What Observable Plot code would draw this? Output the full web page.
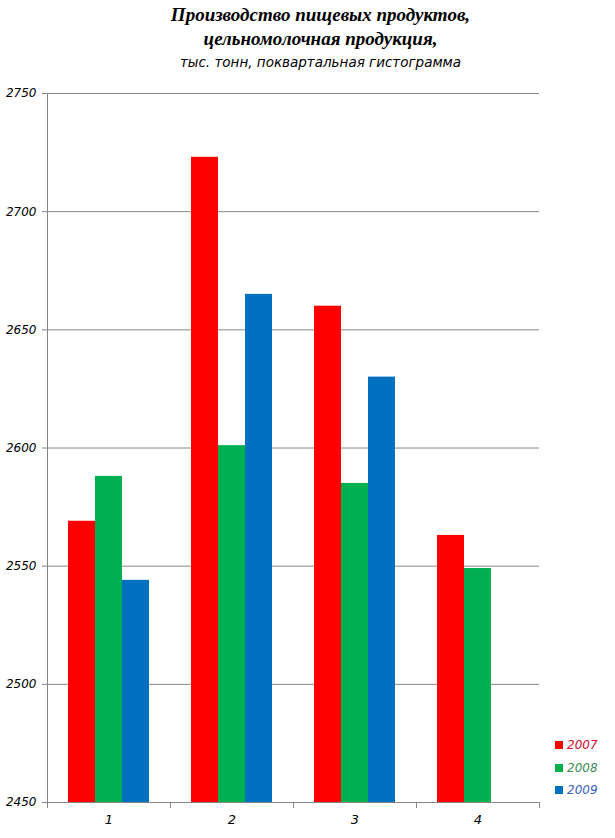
<!DOCTYPE html>
<html><head><meta charset="utf-8">
<script src="https://cdn.jsdelivr.net/npm/d3@7"></script>
<script src="https://cdn.jsdelivr.net/npm/@observablehq/plot@0.6"></script>
<style>
body{margin:0;background:#fff;}
#wrap{position:relative;width:615px;height:838px;overflow:hidden;}
#title{height:80px;box-sizing:border-box;padding-top:3px;padding-left:26px;text-align:center;}
.t1{font-family:"Liberation Serif",serif;font-weight:bold;font-style:italic;font-size:19px;line-height:24px;color:#000;}
.t2{font-family:"DejaVu Sans",sans-serif;font-style:italic;font-size:13.5px;line-height:22px;color:#000;}
#legend{position:absolute;left:555px;top:734px;font-family:"DejaVu Sans",sans-serif;font-style:italic;font-size:12px;}
.li{height:22.5px;display:flex;align-items:center;}
.sw{width:8px;height:8px;margin-right:4px;}
</style>
</head><body>
<div id="wrap">
<div id="title">
<div class="t1">Производство пищевых продуктов,</div>
<div class="t1">цельномолочная продукция,</div>
<div class="t2">тыс. тонн, поквартальная гистограмма</div>
</div>
<div id="chart"></div>
<div id="legend"></div>
</div>
<script>
const quarters = ["1", "2", "3", "4"];
const years = ["2007", "2008", "2009"];
const v2007 = [2569, 2723, 2660, 2563];
const v2008 = [2588, 2601, 2585, 2549];
const v2009 = [2544, 2665, 2630, null];
const yDomain = [2450, 2750];
const yTicks = [2450, 2500, 2550, 2600, 2650, 2700, 2750];
const barColors = ["#ff0000", "#00b050", "#0070c0"];
const legendTextColors = ["#d0102a", "#3b8a5a", "#3a5fc0"];

const series = [v2007, v2008, v2009];
const data = [];
quarters.forEach((q, i) => {
  years.forEach((y, j) => {
    const v = series[j][i];
    if (v != null) data.push({quarter: q, year: y, value: v});
  });
});

const gray = "#868686";
const chart = Plot.plot({
  width: 615,
  height: 758,
  marginTop: 13,
  marginBottom: 36,
  marginLeft: 45,
  marginRight: 75,
  style: {background: "transparent", color: "#000"},
  fx: {domain: quarters, padding: 0, label: null},
  x: {domain: years, paddingInner: 0, paddingOuter: 0.74, axis: null},
  y: {domain: yDomain, label: null},
  color: {domain: years, range: barColors},
  marks: [
    Plot.gridY(yTicks, {stroke: gray, strokeOpacity: 1, strokeWidth: 1}),
    Plot.barY(data, {fx: "quarter", x: "year", y1: () => yDomain[0], y2: "value", fill: "year"}),
    Plot.ruleY([yDomain[0]], {stroke: gray, strokeWidth: 1}),
    Plot.axisY(yTicks, {tickSize: 5, tickPadding: 6, stroke: gray, fontSize: 12, fontStyle: "italic", fontFamily: "DejaVu Sans", tickFormat: d => String(d), label: null}),
    Plot.axisFx({anchor: "bottom", tickSize: 0, tickPadding: 12, fontSize: 13, fontStyle: "italic", fontFamily: "DejaVu Sans", label: null})
  ]
});
document.getElementById("chart").appendChild(chart);

// facet boundary ticks and left axis line
const fx = chart.scale("fx");
const ys = chart.scale("y");
const svg = d3.select(chart.tagName.toLowerCase() === "svg" ? chart : chart.querySelector("svg"));
const bounds = quarters.map(q => fx.apply(q));
bounds.push(fx.apply(quarters[quarters.length - 1]) + fx.bandwidth);
const yb = ys.apply(yDomain[0]);
const yt = ys.apply(yDomain[1]);
const g = svg.append("g").attr("stroke", gray).attr("stroke-width", 1);
bounds.forEach(b => {
  g.append("line").attr("x1", b + 0.5).attr("x2", b + 0.5).attr("y1", yb).attr("y2", yb + 6);
});
g.append("line").attr("x1", bounds[0] + 0.5).attr("x2", bounds[0] + 0.5).attr("y1", yt).attr("y2", yb);

// legend
const leg = document.getElementById("legend");
years.forEach((y, i) => {
  const row = document.createElement("div");
  row.className = "li";
  row.innerHTML = `<div class="sw" style="background:${barColors[i]}"></div><span style="color:${legendTextColors[i]}">${y}</span>`;
  leg.appendChild(row);
});
</script>
</body></html>
